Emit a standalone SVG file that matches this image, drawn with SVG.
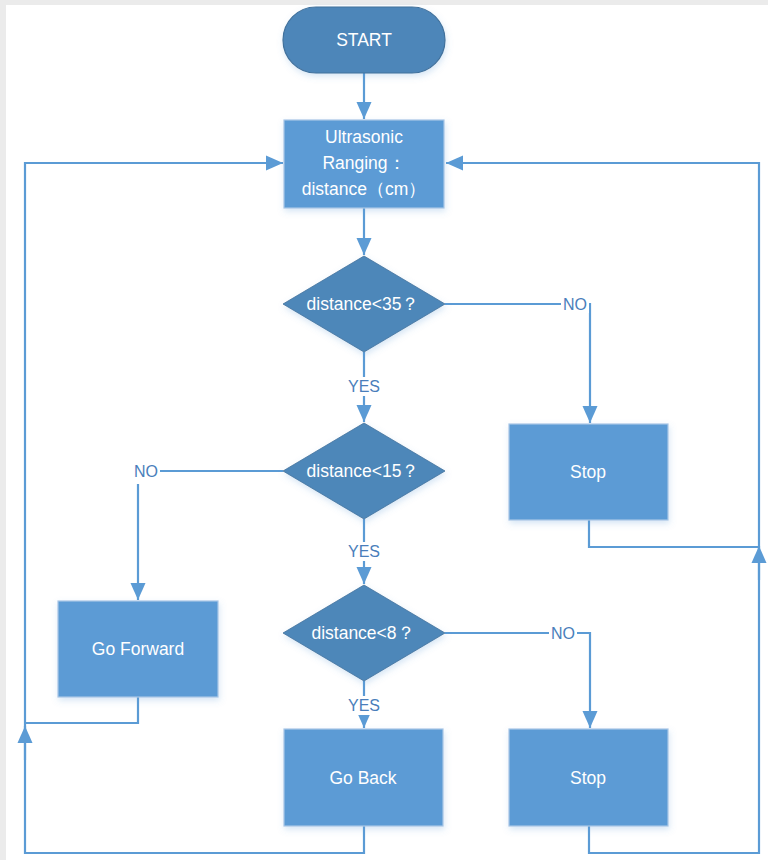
<svg xmlns="http://www.w3.org/2000/svg" width="768" height="860" viewBox="0 0 768 860">
<defs>
<marker id="arr" markerUnits="userSpaceOnUse" markerWidth="18" markerHeight="16" refX="17" refY="8" orient="auto">
<path d="M0,0.5 L17,8 L0,15.5 z" fill="#5b9bd5"/>
</marker>
<filter id="sh" x="-10%" y="-10%" width="125%" height="130%">
<feDropShadow dx="1" dy="3" stdDeviation="3" flood-color="#5b9bd5" flood-opacity="0.25"/>
</filter>
<style>
.box{fill:#5b9bd5;stroke:#a9c6e6;stroke-width:1.2;filter:url(#sh)}
.dia{fill:#4e87b9;stroke:#41719c;stroke-width:0.8;filter:url(#sh)}
.start{fill:#4e86b9;stroke:#41719c;stroke-width:1.2;filter:url(#sh)}
.t{font-family:"Liberation Sans","Open Sans",sans-serif;font-size:17.5px;fill:#ffffff;text-anchor:middle;dominant-baseline:central}
.lab{font-family:"Liberation Sans","Open Sans",sans-serif;font-size:16px;fill:#4a7ebb;text-anchor:middle;dominant-baseline:central}
.ln{fill:none;stroke:#5b9bd5;stroke-width:2.2}
.lb{fill:#ffffff}
</style>
</defs>
<rect x="0" y="0" width="768" height="860" fill="#ffffff"/>
<rect x="0" y="0" width="768" height="5" fill="#ebebeb"/>
<rect x="0" y="0" width="6" height="860" fill="#ebebeb"/>

<g id="connectors">
<path class="ln" d="M364,73 V119" marker-end="url(#arr)"/>
<path class="ln" d="M364,208 V255" marker-end="url(#arr)"/>
<path class="ln" d="M445,304 H590 V423" marker-end="url(#arr)"/>
<path class="ln" d="M364,352 V422" marker-end="url(#arr)"/>
<path class="ln" d="M283,471 H138 V600" marker-end="url(#arr)"/>
<path class="ln" d="M364,519 V584" marker-end="url(#arr)"/>
<path class="ln" d="M445,633 H590 V728" marker-end="url(#arr)"/>
<path class="ln" d="M364,681 V728" marker-end="url(#arr)"/>
<path class="ln" d="M138,697 V723 H25"/>
<path class="ln" d="M364,826 V853 H25 V163 H283" marker-end="url(#arr)"/>
<path class="ln" d="M25,760 V726" marker-end="url(#arr)"/>
<path class="ln" d="M589,520 V547 H759"/>
<path class="ln" d="M589,826 V853 H759 V163 H446" marker-end="url(#arr)"/>
<path class="ln" d="M759,580 V546" marker-end="url(#arr)"/>
<rect class="lb" x="561" y="295" width="28" height="18"/>
<text class="lab" x="575" y="304">NO</text>
<rect class="lb" x="345" y="377" width="38" height="19"/>
<text class="lab" x="364" y="386">YES</text>
<rect class="lb" x="132" y="462" width="28" height="22"/>
<text class="lab" x="146" y="471">NO</text>
<rect class="lb" x="345" y="542" width="38" height="19"/>
<text class="lab" x="364" y="551">YES</text>
<rect class="lb" x="549" y="624" width="28" height="18"/>
<text class="lab" x="563" y="633">NO</text>
<rect class="lb" x="345" y="696" width="38" height="19"/>
<text class="lab" x="364" y="705">YES</text>
</g>

<g id="start">
<rect class="start" x="283" y="7" width="162" height="66" rx="33" ry="33"/>
<text class="t" x="364" y="40">START</text>
</g>
<g id="ranging">
<rect class="box" x="284" y="120" width="160" height="88"/>
<text class="t" x="364" y="137">Ultrasonic</text>
<text class="t" x="364" y="163">Ranging：</text>
<text class="t" x="364" y="189">distance（cm）</text>
</g>
<g id="d35">
<polygon class="dia" points="364,256 445,304 364,352 283,304"/>
<text class="t" x="363" y="304">distance&lt;35？</text>
</g>
<g id="stop1">
<rect class="box" x="509" y="424" width="159" height="96"/>
<text class="t" x="588" y="472">Stop</text>
</g>
<g id="d15">
<polygon class="dia" points="364,423 445,471 364,519 283,471"/>
<text class="t" x="363" y="471">distance&lt;15？</text>
</g>
<g id="forward">
<rect class="box" x="58" y="601" width="160" height="96"/>
<text class="t" x="138" y="649">Go Forward</text>
</g>
<g id="d8">
<polygon class="dia" points="364,585 445,633 364,681 283,633"/>
<text class="t" x="363" y="633">distance&lt;8？</text>
</g>
<g id="back">
<rect class="box" x="284" y="729" width="159" height="97"/>
<text class="t" x="363" y="778">Go Back</text>
</g>
<g id="stop2">
<rect class="box" x="509" y="729" width="159" height="97"/>
<text class="t" x="588" y="778">Stop</text>
</g>
</svg>
